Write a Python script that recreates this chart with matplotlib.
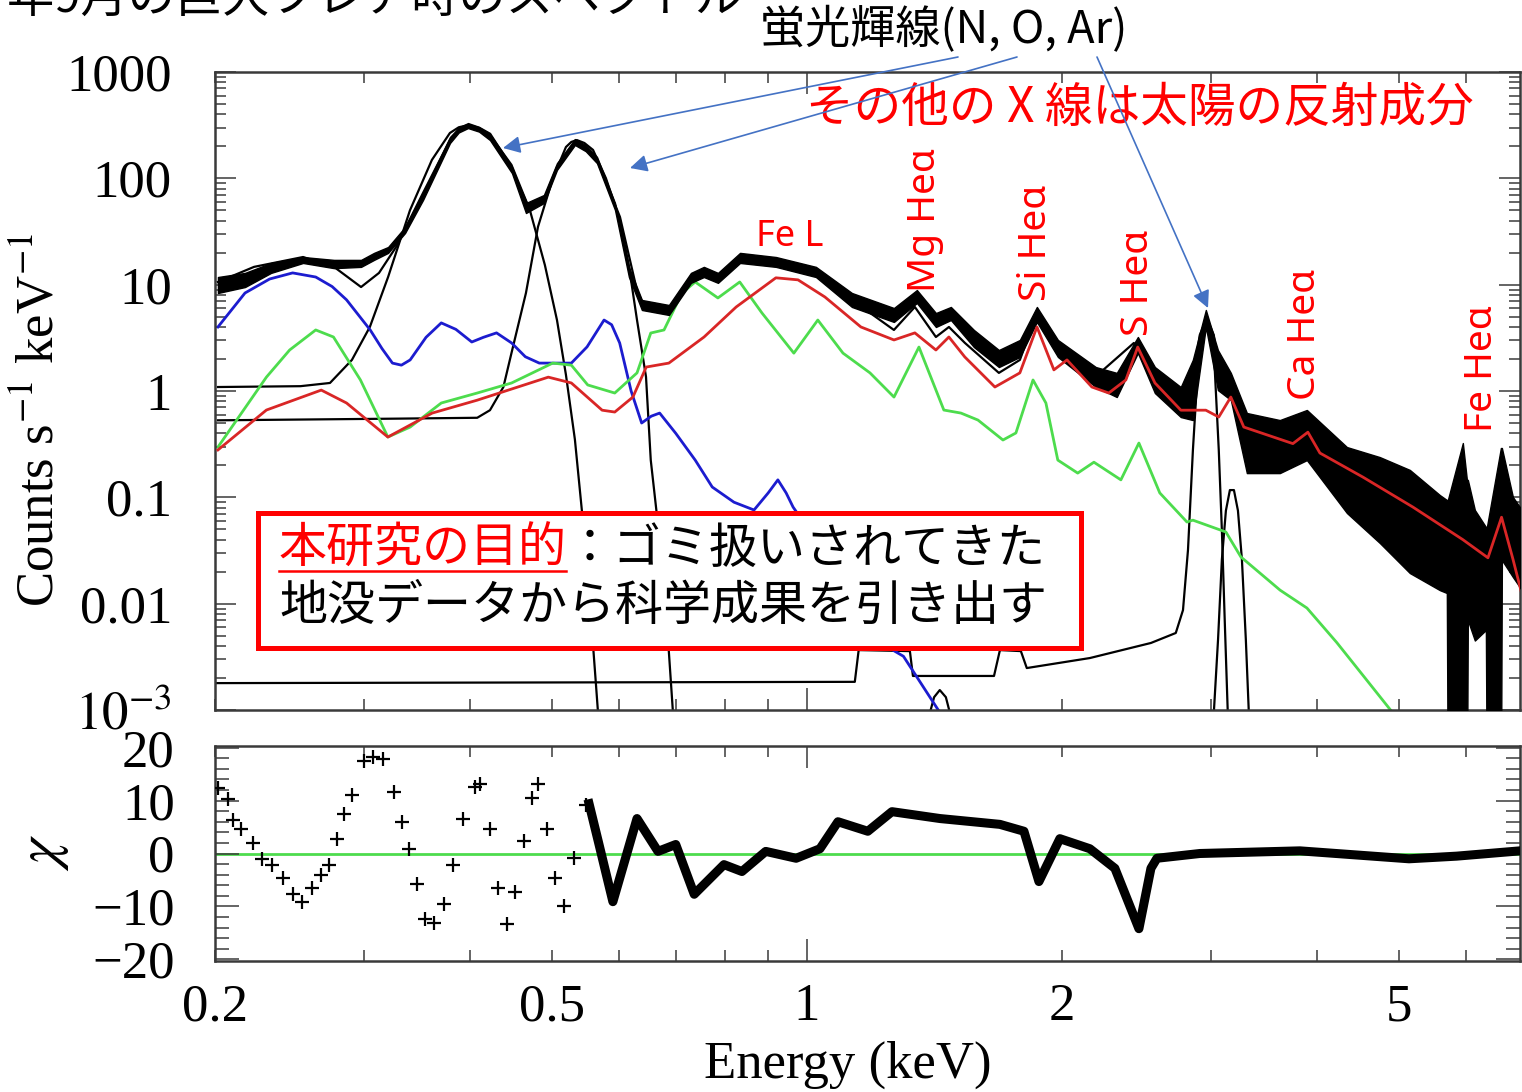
import matplotlib
matplotlib.use("Agg")
import matplotlib.pyplot as plt
from matplotlib.ticker import FixedLocator, FuncFormatter, NullFormatter, LogLocator, MultipleLocator
from matplotlib.patches import Rectangle, FancyArrowPatch
from matplotlib.lines import Line2D
import numpy as np

plt.rcParams['font.family'] = ['Liberation Serif', 'DejaVu Serif']
plt.rcParams['mathtext.fontset'] = 'stix'

# ---------------- data ----------------
# observed spectrum envelope (counts s^-1 keV^-1)
data_E = [0.2016,0.2170,0.2329,0.2541,0.2764,0.2975,0.3082,0.3202,0.3353,0.3521,0.3789,0.3880,0.3979,0.4100,0.4224,0.4484,0.4658,0.4891,0.5068,0.5321,0.5480,0.5650,0.5934,0.6163,0.6384,0.6871,0.7295,0.7556,0.7851,0.8337,0.9192,1.0247,1.1301,1.2668,1.3484,1.4200,1.4790,1.5746,1.6852,1.7842,1.8686,1.9786,2.1932,2.3220,2.4590,2.5754,2.7632,2.8552,2.9582,3.0566,3.1662,3.3072,3.6174,3.8934,4.3412,4.7474,5.1514,5.5894,5.6962,5.7120,5.9496,6.0154,6.0308,6.1472,6.3342,6.3518,6.5978,6.6160,6.8170,6.9854]
data_lo = [8.35,9.5,12.9,16.0,14.3,14.7,17.1,19.9,30.6,62.6,215,270,297,275,229,112,47.2,58.6,120,206,180,139,50.4,11.8,5.78,5.19,10.4,11.8,10.4,16.0,14.7,11.8,6.17,4.46,6.73,4.0,4.65,2.59,1.68,2.09,4.46,2.09,1.09,0.878,2.28,0.957,0.569,0.533,4.0,1.02,0.823,0.169,0.169,0.224,0.0712,0.0372,0.0194,0.0134,0.0126,0.0001,0.0001,0.0001,0.0070,0.0045,0.00565,0.0001,0.0001,0.0257,0.0178,0.0134]
data_hi = [11.8,12.9,16.0,18.2,17.1,17.1,19.9,22.6,34.8,72.8,245,300,331,305,267,128,58.6,69.7,139,234,205,159,58.6,14.7,7.18,6.44,12.9,14.7,12.9,19.9,18.2,14.7,8.35,6.03,8.9,5.41,6.17,3.75,2.43,3.02,6.17,3.02,1.68,1.48,3.22,1.68,1.09,1.96,5.78,2.43,1.48,0.621,0.533,0.663,0.297,0.239,0.181,0.105,0.0944,0.0944,0.324,0.146,0.146,0.076,0.0526,0.0526,0.291,0.291,0.1007,0.076]

# total model
model_E = [0.2016,0.2224,0.2541,0.2764,0.2975,0.3124,0.3272,0.3521,0.3789,0.3880,0.3979,0.4100,0.4224,0.4484,0.4709,0.4891,0.5068,0.5321,0.5480,0.5650,0.6015,0.6298,0.6455,0.6871,0.7295,0.7556,0.7851,0.8337,0.9192,1.0247,1.1301,1.2668,1.3410,1.4200,1.4712,1.5366,1.6852,1.7842,1.8686,1.9786,2.1696,2.4324,2.5754,2.7632,2.8552,2.9096,2.9664,3.0230,3.0650,3.1662,3.2804,3.7470,3.9034,4.0332,4.5338,5.1932,5.9496,6.3694,6.6160,6.8170,6.9854]
model_C = [10.6,14.7,18.2,14.7,9.5,12.9,22.6,72.8,229,285,317,285,245,120,50.4,62.6,128,220,190,149,43.3,8.9,5.78,5.41,11.1,12.9,11.1,18.2,17.1,13.7,7.18,3.75,6.17,3.22,4.0,2.83,1.48,1.96,5.41,2.28,1.27,2.83,1.27,0.771,1.27,3.36,4.86,3.36,1.48,1.27,0.569,0.361,0.458,0.291,0.173,0.0904,0.0442,0.0300,0.0728,0.0287,0.0140]

# fluorescence line components (black)
n_E = [0.2016,0.2523,0.2734,0.2902,0.3047,0.3202,0.3398,0.3607,0.3788,0.3880,0.3983,0.4100,0.4224,0.4478,0.4709,0.4904,0.5068,0.5193,0.5321,0.5437,0.5539,0.5630,0.5675]
n_C = [1.09,1.11,1.19,1.96,4.0,11.8,50,149,267,302,317,298,255,134,50,15.3,4.65,1.42,0.35,0.061,0.0108,0.0019,0.0008]
o_E = [0.2016,0.331,0.408,0.4224,0.4381,0.4478,0.4658,0.4813,0.5012,0.5193,0.527,0.535,0.546,0.559,0.579,0.6015,0.6166,0.630,0.6456,0.654,0.670,0.683,0.695]
o_C = [0.53,0.55,0.56,0.66,1.09,2.27,8.35,35,100,197,220,229,215,185,100,40.4,14.6,4.65,1.36,0.224,0.040,0.007,0.0009]
ar_E = [0.2011,1.139,1.151,1.323,1.334,1.663,1.690,1.789,1.818,2.158,2.548,2.726,2.78,2.818,2.856,2.894,2.934,2.966,2.998,3.031,3.064,3.09,3.114,3.14]
ar_C = [0.00179,0.00184,0.00366,0.00358,0.00209,0.00209,0.00366,0.00358,0.00248,0.00308,0.00427,0.0053,0.0087,0.032,0.279,1.58,3.75,4.85,3.75,1.58,0.279,0.049,0.0070,0.00094]
arb_E = [3.023,3.058,3.09,3.124,3.158,3.193,3.228,3.263,3.298,3.325]
arb_C = [0.00094,0.0046,0.026,0.075,0.117,0.117,0.075,0.026,0.0046,0.00094]
bump_E = [1.397,1.413,1.435,1.459,1.475]
bump_C = [0.00094,0.00132,0.00154,0.00132,0.00094]

# solar reflection components
blue_E = [0.2016,0.217,0.232,0.247,0.263,0.275,0.286,0.305,0.315,0.324,0.332,0.340,0.355,0.370,0.385,0.402,0.415,0.430,0.448,0.465,0.483,0.527,0.550,0.576,0.588,0.601,0.620,0.638,0.655,0.670,0.700,0.738,0.773,0.820,0.866,0.900,0.924,0.945,0.963,1.26,1.30,1.435]
blue_C = [4.0,8.35,11.3,12.9,11.8,9.6,7.2,3.75,2.5,1.83,1.75,1.96,3.2,4.37,3.8,2.89,3.2,3.52,2.83,2.1,1.83,1.83,2.6,4.65,4.2,2.83,1.0,0.50,0.58,0.62,0.40,0.224,0.125,0.09,0.076,0.11,0.146,0.11,0.081,0.0037,0.0032,0.00095]
green_E = [0.2016,0.230,0.245,0.263,0.276,0.297,0.320,0.340,0.370,0.408,0.448,0.501,0.527,0.551,0.593,0.630,0.654,0.678,0.712,0.738,0.785,0.833,0.885,0.965,1.030,1.103,1.187,1.267,1.356,1.451,1.520,1.592,1.704,1.765,1.849,1.915,1.978,2.088,2.182,2.348,2.466,2.61,2.81,2.856,3.124,3.254,3.62,3.894,4.224,4.584,4.918]
green_C = [0.297,1.35,2.43,3.75,3.22,1.27,0.369,0.458,0.771,0.957,1.19,1.83,1.75,1.14,0.957,1.48,3.51,3.75,8.35,10.6,7.5,10.6,5.41,2.27,4.65,2.27,1.48,0.877,2.59,0.662,0.62,0.533,0.346,0.403,1.27,0.771,0.224,0.169,0.214,0.146,0.324,0.110,0.0586,0.061,0.0472,0.0275,0.0134,0.0091,0.0043,0.0019,0.00094]
red_E = [0.2016,0.230,0.267,0.286,0.320,0.361,0.408,0.495,0.527,0.573,0.593,0.623,0.646,0.687,0.756,0.825,0.919,0.976,1.050,1.158,1.267,1.341,1.420,1.471,1.536,1.667,1.784,1.869,1.957,2.028,2.17,2.272,2.38,2.458,2.576,2.764,2.958,3.064,3.166,3.28,3.748,3.904,4.034,4.534,5.194,5.95,6.37,6.61,6.82,6.98]
red_C = [0.279,0.662,1.02,0.771,0.369,0.62,0.82,1.35,1.19,0.66,0.634,0.877,1.68,1.83,3.22,6.17,11.6,11.1,7.66,4.0,3.02,3.52,2.43,3.22,2.09,1.09,1.48,4.0,1.58,1.96,1.09,0.957,1.27,2.59,1.19,0.66,0.66,0.569,0.877,0.458,0.32,0.41,0.261,0.155,0.081,0.040,0.027,0.065,0.026,0.0126]

# residuals (chi)
res_pts_E = [0.2016,0.2072,0.2100,0.2146,0.2218,0.2273,0.2335,0.2406,0.2472,0.2533,0.2603,0.2667,0.2726,0.2786,0.2840,0.2902,0.2999,0.3073,0.3157,0.3253,0.3325,0.3389,0.3464,0.3540,0.3628,0.3728,0.3820,0.3925,0.4055,0.4111,0.4224,0.4317,0.4424,0.4522,0.4633,0.4736,0.4813,0.4932,0.5040,0.5165,0.5307,0.5483]
res_pts_chi = [12.3,10.2,6.4,4.7,1.9,-1.1,-2.1,-4.7,-7.7,-9.1,-6.6,-4.0,-2.1,2.8,7.4,11.1,17.4,18.3,17.9,11.7,6.0,0.9,-5.8,-12.3,-13.2,-9.6,-2.1,6.6,12.6,13.2,4.7,-6.6,-13.4,-7.2,2.3,10.4,13.2,4.7,-4.7,-10.0,-0.9,9.2]
res_band_E = [0.553,0.567,0.590,0.630,0.667,0.700,0.736,0.798,0.838,0.894,0.971,1.036,1.088,1.180,1.260,1.436,1.690,1.804,1.879,1.989,2.158,2.310,2.466,2.548,2.590,2.91,3.82,5.14,5.85,6.95]
res_band_chi = [9.4,2.3,-9.1,6.6,0.4,1.7,-7.7,-2.1,-3.4,0.4,-0.9,0.9,6.0,4.2,7.9,6.6,5.5,4.2,-5.3,2.8,0.9,-2.8,-14.2,-2.8,-0.9,0.0,0.5,-1.0,-0.5,0.5]

x_major = [1]
x_minor = [0.2, 0.3, 0.4, 0.5, 0.6, 0.7, 0.8, 0.9, 2, 3, 4, 5, 6]
x_labels = {0.2: '0.2', 0.5: '0.5', 1: '1', 2: '2', 5: '5'}
y_major = [1e-3, 1e-2, 1e-1, 1, 10, 100, 1000]
y_labels = {1e-3: '$10^{-3}$', 1e-2: '0.01', 1e-1: '0.1', 1: '1', 10: '10', 100: '100', 1000: '1000'}
chi_ticks = [-20, -10, 0, 10, 20]
chi_labels = ['\u221220', '\u221210', '0', '10', '20']

# ---------------- figure ----------------
W, H = 1522, 1092
def fx(p): return p / W
def fy(p): return 1 - p / H

BLUE = '#1c1ccf'
GREEN = '#4ddc4d'
RED = '#d92626'
SPINE = '#3a3a3a'

fig = plt.figure(figsize=(W / 100, H / 100), dpi=100)
ax = fig.add_axes([fx(215), fy(710), fx(1520) - fx(215), fy(72) - fy(710)])
axr = fig.add_axes([fx(215), fy(961), fx(1520) - fx(215), fy(746) - fy(961)])

# top panel
ax.fill_between(data_E, data_lo, data_hi, color='black', lw=1.0, zorder=3)
ax.plot(model_E, model_C, color='black', lw=1.6, zorder=3)
for e, c in [(n_E, n_C), (o_E, o_C), (ar_E, ar_C), (arb_E, arb_C), (bump_E, bump_C)]:
    ax.plot(e, c, color='black', lw=1.6, zorder=2)
ax.plot(blue_E, blue_C, color=BLUE, lw=2.0, zorder=2)
ax.plot(green_E, green_C, color=GREEN, lw=2.0, zorder=2)
ax.plot(red_E, red_C, color=RED, lw=2.0, zorder=4)

ax.set_xscale('log')
ax.set_yscale('log')
ax.set_xlim(0.2, 6.95)
ax.set_ylim(1e-3, 1e3)

# bottom panel
axr.axhline(0, color=GREEN, lw=2.0, zorder=1)
axr.plot(res_pts_E, res_pts_chi, linestyle='none', marker='+', ms=10, mew=1.6, color='black', zorder=3)
axr.plot(res_band_E, res_band_chi, color='black', lw=6.5, zorder=3)
axr.set_xscale('log')
axr.set_xlim(0.2, 6.95)
axr.set_ylim(-20.3, 20.3)

def xfmt(v, pos):
    for k, s in x_labels.items():
        if np.isclose(v, k):
            return s
    return ''

def yfmt(v, pos):
    for k, s in y_labels.items():
        if np.isclose(v, k, rtol=1e-3):
            return s
    return ''

for a in (ax, axr):
    a.xaxis.set_major_locator(FixedLocator(x_major))
    a.xaxis.set_minor_locator(FixedLocator(x_minor))
    for sp in a.spines.values():
        sp.set_color(SPINE)
        sp.set_linewidth(1.8)
    a.tick_params(which='both', direction='in', top=True, right=True, color=SPINE, width=1.1, labelsize=38)
    a.tick_params(axis='x', which='major', length=16)
    a.tick_params(axis='x', which='minor', length=8)

ax.xaxis.set_major_formatter(NullFormatter())
ax.xaxis.set_minor_formatter(NullFormatter())
axr.xaxis.set_major_formatter(FuncFormatter(xfmt))
axr.xaxis.set_minor_formatter(FuncFormatter(xfmt))
axr.tick_params(axis='x', which='both', pad=16)

ax.yaxis.set_major_locator(FixedLocator(y_major))
ax.yaxis.set_minor_locator(LogLocator(base=10, subs=range(2, 10), numticks=30))
ax.yaxis.set_major_formatter(FuncFormatter(yfmt))
ax.yaxis.set_minor_formatter(NullFormatter())
ax.tick_params(axis='y', which='major', length=15, pad=31)
ax.tick_params(axis='y', which='minor', length=8)

axr.yaxis.set_major_locator(FixedLocator(chi_ticks))
axr.set_yticklabels(chi_labels)
axr.yaxis.set_minor_locator(MultipleLocator(2))
axr.tick_params(axis='y', which='major', length=17, pad=29)
axr.tick_params(axis='y', which='minor', length=10)

# axis labels
fig.text(fx(40), fy(420), 'Counts s$^{-1}$ keV$^{-1}$', rotation=90, ha='center', va='center', fontsize=38)
fig.text(fx(45), fy(852), r'$\chi$', rotation=90, ha='center', va='center', fontsize=42)
fig.text(fx(848), fy(1065), 'Energy (keV)', ha='center', va='center', fontsize=38)

# ---------------- annotations ----------------
CJK = ['Noto Sans CJK JP', 'DejaVu Sans']
LAT = ['Noto Sans', 'DejaVu Sans']

fig.text(fx(742), fy(13), '2017年9月の巨大フレア時のスペクトル', ha='right', va='baseline',
         fontsize=34, family=CJK, color='black')
fig.text(fx(760), fy(30), '蛍光輝線(N, O, Ar)', ha='left', va='center', fontsize=32.5, family=CJK, color='black')
fig.text(fx(806), fy(108), 'その他の X 線は太陽の反射成分', ha='left', va='center', fontsize=34.3,
         family=CJK, color='#ff0000')

ARROW = '#4472C4'
for (x0, y0), (x1, y1) in [((958, 57), (503, 148)), ((1017, 57), (630, 168)), ((1097, 57), (1208, 308))]:
    fig.add_artist(FancyArrowPatch((fx(x0), fy(y0)), (fx(x1), fy(y1)), transform=fig.transFigure,
                                   arrowstyle='-|>', mutation_scale=26, color=ARROW, lw=1.2,
                                   shrinkA=0, shrinkB=0, zorder=6))

fig.text(fx(790), fy(237), 'Fe L', ha='center', va='center', fontsize=26, family=LAT, color='#ff0000')
for txt, xc, yc in [('Mg He\u03b1', 925, 220), ('Si He\u03b1', 1036, 243), ('S He\u03b1', 1138, 283),
                    ('Ca He\u03b1', 1305, 334), ('Fe He\u03b1', 1482, 369)]:
    fig.text(fx(xc), fy(yc), txt, rotation=90, ha='center', va='center', fontsize=28, family=LAT, color='#ff0000')

# purpose box
fig.add_artist(Rectangle((fx(258), fy(648)), fx(1081) - fx(258), fy(513) - fy(648), transform=fig.transFigure,
                         facecolor='white', edgecolor='#ff0000', lw=3.6, zorder=5))
fig.text(fx(279), fy(549), '本研究の目的', ha='left', va='center', fontsize=34.6, family=CJK, color='#ff0000', zorder=7)
fig.text(fx(566), fy(549), '：ゴミ扱いされてきた', ha='left', va='center', fontsize=34.6, family=CJK, color='black', zorder=7)
fig.text(fx(279), fy(606), '地没データから科学成果を引き出す', ha='left', va='center', fontsize=34.6, family=CJK,
         color='black', zorder=7)
fig.add_artist(Line2D([fx(279), fx(566)], [fy(571), fy(571)], transform=fig.transFigure, color='#ff0000', lw=1.8, zorder=7))

fig.savefig('out.png', dpi=100)
